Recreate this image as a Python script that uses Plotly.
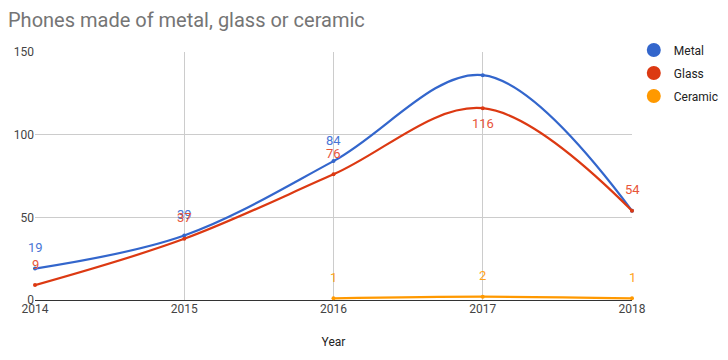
import plotly.graph_objects as go

years = [2014, 2015, 2016, 2017, 2018]
metal = [19, 39, 84, 136, 54]
glass = [9, 37, 76, 116, 54]
ceramic = [None, None, 1, 2, 1]
metal_labels = ["19", "39", "84", "", ""]
glass_labels = ["9", "37", "76", "116", "54"]
ceramic_labels = ["", "", "1", "2", "1"]

names = ["Metal", "Glass", "Ceramic"]
colors = ["#3366cc", "#dc3912", "#ff9900"]
label_colors = ["#4a76d6", "#e8553a", "#ffa31a"]
legend_ids = ["legend", "legend2", "legend3"]

fig = go.Figure()
annotations = []
for name, vals, labs, col, lcol in zip(names, [metal, glass, ceramic],
                                       [metal_labels, glass_labels, ceramic_labels],
                                       colors, label_colors):
    fig.add_trace(go.Scatter(
        x=years, y=vals, mode="lines+markers", name=name,
        line=dict(color=col, width=2.2, shape="spline", smoothing=1.0),
        marker=dict(color=col, size=4),
        showlegend=False, cliponaxis=False))
    for x, v, t in zip(years, vals, labs):
        if v is None or not t:
            continue
        below = (name == "Glass" and x == 2017)
        annotations.append(dict(
            x=x, y=v, xref="x", yref="y", text=t, showarrow=False,
            yanchor="middle", xanchor="center",
            yshift=-15 if below else 21,
            font=dict(color=lcol, size=13, family="Roboto")))
for name, col, lid in zip(names, colors, legend_ids):
    fig.add_trace(go.Scatter(
        x=[None], y=[None], mode="markers", name=name, legend=lid,
        marker=dict(color=col, size=14), showlegend=True))

leg_common = dict(xanchor="left", yanchor="middle", font=dict(size=12, color="#222"),
                  itemwidth=30, bgcolor="rgba(0,0,0,0)")
leg_x = 1.003
# legend item centres (pixels from plot top): 50-52=-2, 73-52=21, 96-52=44
fig.update_layout(
    width=720, height=352,
    margin=dict(l=27, r=96, t=44, b=60, autoexpand=False),
    paper_bgcolor="white", plot_bgcolor="white",
    font=dict(family="Roboto", color="#444", size=12),
    title=dict(text="Phones made of metal, glass or ceramic", x=0.0, xanchor="left",
               xref="container", y=1 - 12 / 352, yanchor="middle", yref="container",
               pad=dict(l=0, t=0, b=0, r=0),
               font=dict(size=20, color="#757575", family="Roboto")),
    legend=dict(x=leg_x, y=1 + 2 / 248, **leg_common),
    legend2=dict(x=leg_x, y=1 - 21 / 248, **leg_common),
    legend3=dict(x=leg_x, y=1 - 44 / 248, **leg_common),
    annotations=annotations,
    xaxis=dict(range=[2014, 2018], tickvals=years, ticktext=[str(y) for y in years],
               showgrid=True, gridcolor="#cccccc", zeroline=False,
               title=dict(text="Year", font=dict(size=12, color="#222"), standoff=22),
               ticks="", tickfont=dict(color="#444")),
    yaxis=dict(range=[0, 150], tickvals=[0, 50, 100, 150],
               showgrid=True, gridcolor="#cccccc", zeroline=True, zerolinecolor="#333",
               zerolinewidth=1, ticks="", tickfont=dict(color="#444")),
)

fig.write_html("out.html")
